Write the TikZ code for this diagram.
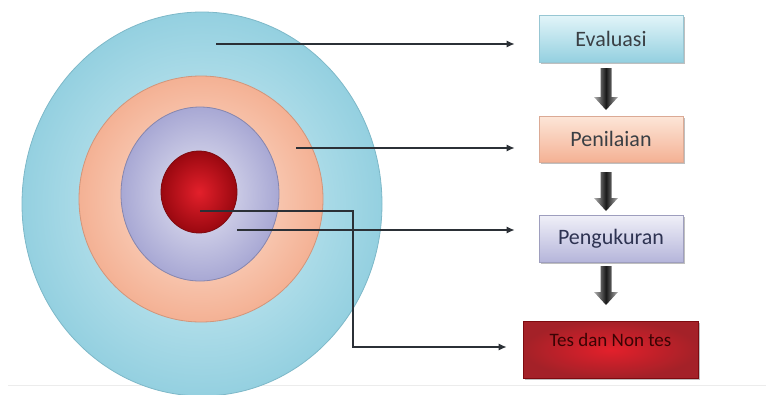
\documentclass[tikz,border=0pt]{standalone}
\usepackage{fontspec}
\setmainfont{Carlito}
\usetikzlibrary{shapes.geometric,arrows.meta,calc}
\definecolor{cyanin}{HTML}{D6F0F6}
\definecolor{cyanout}{HTML}{94D0E0}
\definecolor{cyanedge}{HTML}{7DB8C8}
\definecolor{peachin}{HTML}{FDE6D8}
\definecolor{peachout}{HTML}{F4B194}
\definecolor{peachedge}{HTML}{D2957A}
\definecolor{lavin}{HTML}{E6E6F3}
\definecolor{lavout}{HTML}{A8A8D4}
\definecolor{lavedge}{HTML}{8686AE}
\definecolor{redin}{HTML}{E3202B}
\definecolor{redout}{HTML}{9A0810}
\definecolor{rededge}{HTML}{7E0A0F}
\definecolor{linecol}{HTML}{2B3036}
\definecolor{navytext}{HTML}{2E3352}
\definecolor{redtext}{HTML}{3A0404}
\definecolor{graytext}{HTML}{3A3F44}
\tikzset{
  ring/.style={ellipse, inner sep=0pt, draw, line width=0.8pt},
  boxshadow/.style={fill=black!25, draw=none},
  box/.style={rectangle, inner sep=2pt, line width=0.6pt,
    font=\fontsize{22}{24}\selectfont},
  conn/.style={draw=linecol, line width=1.4pt,
    -{Latex[length=8pt,width=7pt]}},
  blockarr/.style={left color=gray!60, right color=gray!60, middle color=black!90}
}
\newcommand\blockdown[2]{%
  \path[blockarr] let \p1=(#1), \p2=(#2) in
    (\x1-5.5pt,\y1) -- (\x1+5.5pt,\y1) -- (\x1+5.5pt,\y2+13pt) -- (\x1+12pt,\y2+13pt)
    -- (\x1,\y2) -- (\x1-12pt,\y2+13pt) -- (\x1-5.5pt,\y2+13pt) -- cycle;}
\begin{document}
\begin{tikzpicture}[x=1pt,y=-1pt]
\useasboundingbox (0,0) rectangle (766,394);
\draw[gray!15, line width=1pt] (8,385) -- (766,385);
% concentric ellipses
\node[ring, draw=cyanedge, shading=radial, inner color=cyanin, outer color=cyanout,
  minimum width=360pt, minimum height=384pt] (outer) at (202,204) {};
\node[ring, draw=peachedge, shading=radial, inner color=peachin, outer color=peachout,
  minimum width=244pt, minimum height=246pt] (peach) at (201,199) {};
\node[ring, draw=lavedge, shading=radial, inner color=lavin, outer color=lavout,
  minimum width=158pt, minimum height=174pt] (lav) at (200,194) {};
\node[ring, draw=rededge, shading=radial, inner color=redin, outer color=redout,
  minimum width=76pt, minimum height=82pt] (core) at (199,192) {};
% box shadows
\fill[boxshadow] (541,17) rectangle (685,64);
\fill[boxshadow] (541,118) rectangle (685,164);
\fill[boxshadow] (541,217) rectangle (685,264);
\fill[boxshadow] (525,323) rectangle (700,380);
% boxes
\node[box, top color=cyanin!70!white, bottom color=cyanout, draw=cyanedge!80,
  text=graytext, minimum width=144pt, minimum height=47pt] (ev) at (611,38.5) {Evaluasi};
\node[box, top color=peachin, bottom color=peachout, draw=peachedge!80,
  text=graytext, minimum width=144pt, minimum height=46pt] (pn) at (611,139) {Penilaian};
\node[box, top color=lavin!60!white, bottom color=lavout!85, draw=lavedge!80,
  text=navytext, minimum width=144pt, minimum height=47pt] (pg) at (611,238.5) {Pengukuran};
\node[box, shading=radial, inner color=redin, outer color=redout!90, draw=rededge,
  minimum width=175pt, minimum height=57pt] (ts) at (610.5,349.5) {};
\node[text=redtext, font=\fontsize{19}{21}\selectfont, inner sep=0pt] (tstext)
  at ([yshift=10pt]ts.center) {Tes dan Non tes};
% start points of connectors
\coordinate (s1) at (216,44);
\coordinate (s2) at (296,148);
\coordinate (s3) at (237,230);
\coordinate (s4) at (200,211);
\coordinate (b4) at (353,211);
\coordinate (c4) at (353,347);
\draw[conn, shorten >=24pt] (s1) -- (s1 -| ev.west);
\draw[conn, shorten >=24pt] (s2) -- (s2 -| pn.west);
\draw[conn, shorten >=24pt] (s3) -- (s3 -| pg.west);
\draw[conn, shorten >=16pt] (s4) -- (b4) -- (c4) -- (c4 -| ts.west);
% block arrows between boxes
\coordinate (a1s) at (606,68);  \coordinate (a1e) at (606,110);
\coordinate (a2s) at (606,172); \coordinate (a2e) at (606,211);
\coordinate (a3s) at (606,266); \coordinate (a3e) at (606,305);
\blockdown{a1s}{a1e}
\blockdown{a2s}{a2e}
\blockdown{a3s}{a3e}
\end{tikzpicture}
\end{document}
